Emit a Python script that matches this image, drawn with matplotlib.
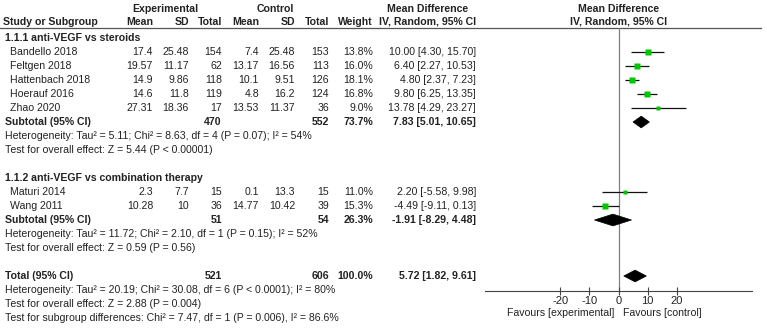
import matplotlib
matplotlib.use('Agg')
import matplotlib.pyplot as plt
from matplotlib.patches import Polygon

plt.rcParams['font.family'] = ['Liberation Sans', 'DejaVu Sans']
plt.rcParams['axes.unicode_minus'] = False

# ---- data ----
group_names = ["1.1.1 anti-VEGF vs steroids", "1.1.2 anti-VEGF vs combination therapy"]
study = ["Bandello 2018", "Feltgen 2018", "Hattenbach 2018", "Hoerauf 2016", "Zhao 2020",
         "Maturi 2014", "Wang 2011"]
group_of = [0, 0, 0, 0, 0, 1, 1]
exp_mean = [17.4, 19.57, 14.9, 14.6, 27.31, 2.3, 10.28]
exp_sd = [25.48, 11.17, 9.86, 11.8, 18.36, 7.7, 10]
exp_n = [154, 62, 118, 119, 17, 15, 36]
ctl_mean = [7.4, 13.17, 10.1, 4.8, 13.53, 0.1, 14.77]
ctl_sd = [25.48, 16.56, 9.51, 16.2, 11.37, 13.3, 10.42]
ctl_n = [153, 113, 126, 124, 36, 15, 39]
weight = [13.8, 16.0, 18.1, 16.8, 9.0, 11.0, 15.3]
md = [10.00, 6.40, 4.80, 9.80, 13.78, 2.20, -4.49]
ci_lo = [4.30, 2.27, 2.37, 6.25, 4.29, -5.58, -9.11]
ci_hi = [15.70, 10.53, 7.23, 13.35, 23.27, 9.98, 0.13]

sub_exp_n = [470, 51]
sub_ctl_n = [552, 54]
sub_weight = [73.7, 26.3]
sub_md = [7.83, -1.91]
sub_lo = [5.01, -8.29]
sub_hi = [10.65, 4.48]
sub_het = ["Heterogeneity: Tau² = 5.11; Chi² = 8.63, df = 4 (P = 0.07); I² = 54%",
           "Heterogeneity: Tau² = 11.72; Chi² = 2.10, df = 1 (P = 0.15); I² = 52%"]
sub_z = ["Test for overall effect: Z = 5.44 (P < 0.00001)",
         "Test for overall effect: Z = 0.59 (P = 0.56)"]

tot_exp_n, tot_ctl_n, tot_weight = 521, 606, 100.0
tot_md, tot_lo, tot_hi = 5.72, 1.82, 9.61
tot_lines = ["Heterogeneity: Tau² = 20.19; Chi² = 30.08, df = 6 (P < 0.0001); I² = 80%",
             "Test for overall effect: Z = 2.88 (P = 0.004)",
             "Test for subgroup differences: Chi² = 7.47, df = 1 (P = 0.006), I² = 86.6%"]
xticks = [-20, -10, 0, 10, 20]

# ---- layout ----
W, H = 767, 332
ROW0, DY = 52, 14
FS = 7.6
TXT = '#222222'
GREEN = '#00c800'


def row(px):
    return (px - ROW0) / DY


fig = plt.figure(figsize=(W / 100, H / 100), dpi=100)
ax = fig.add_axes([0, 0, 1, 1])
ax.set_xlim(0, W)
ax.set_ylim(row(H), row(0))
ax.axis('off')

# forest axes: x in mean difference units, y in rows
fx0, fx1, fy_top, fy_bot = 485, 752, 28, 291
axf = fig.add_axes([fx0 / W, (H - fy_bot) / H, (fx1 - fx0) / W, (fy_bot - fy_top) / H])
axf.set_xlim(-46, 46)
axf.set_ylim(row(fy_bot), row(fy_top))
axf.patch.set_alpha(0)
for s in ['top', 'left', 'right']:
    axf.spines[s].set_visible(False)
axf.spines['bottom'].set_color('#444444')
axf.spines['bottom'].set_linewidth(0.8)
axf.set_yticks([])
axf.set_xticks(xticks)
axf.set_xticklabels([str(t) for t in xticks])
axf.tick_params(axis='x', direction='inout', length=6, width=0.8, color='#444444',
                labelsize=8, labelcolor=TXT, pad=0.5)
axf.axvline(0, color='#808080', lw=0.9, zorder=1)

# column right edges
c_em, c_esd, c_en, c_cm, c_csd, c_cn, c_w, c_ci = 153, 189, 222, 259, 295, 329, 373, 476


def t(x, r, s, ha='right', bold=False):
    ax.text(x, r, s, ha=ha, va='center', fontsize=FS, color=TXT,
            fontweight='bold' if bold else 'normal')


# headers
t(165, row(9), "Experimental", ha='center', bold=True)
t(275, row(9), "Control", ha='center', bold=True)
t(428, row(9), "Mean Difference", ha='center', bold=True)
t(619, row(9), "Mean Difference", ha='center', bold=True)
t(3, row(22), "Study or Subgroup", ha='left', bold=True)
for x, s in [(c_em, "Mean"), (c_esd, "SD"), (c_en, "Total"), (c_cm, "Mean"),
             (c_csd, "SD"), (c_cn, "Total"), (c_w, "Weight"), (c_ci, "IV, Random, 95% CI")]:
    t(x, row(22), s, bold=True)
t(619, row(22), "IV, Random, 95% CI", ha='center', bold=True)
ax.plot([0, 761], [row(28), row(28)], color='#555555', lw=0.9)


def diamond(r, m, lo, hi):
    h = 0.42
    axf.add_patch(Polygon([(lo, r), (m, r - h), (hi, r), (m, r + h)], closed=True,
                          facecolor='black', edgecolor='black', lw=0.5, zorder=3))


r = -1
for g, name in enumerate(group_names):
    t(5, r, name, ha='left', bold=True)
    r += 1
    for i in range(len(study)):
        if group_of[i] != g:
            continue
        t(10, r, study[i], ha='left')
        t(c_em, r, f"{exp_mean[i]:g}")
        t(c_esd, r, f"{exp_sd[i]:g}")
        t(c_en, r, str(exp_n[i]))
        t(c_cm, r, f"{ctl_mean[i]:g}")
        t(c_csd, r, f"{ctl_sd[i]:g}")
        t(c_cn, r, str(ctl_n[i]))
        t(c_w, r, f"{weight[i]:.1f}%")
        t(c_ci, r, f"{md[i]:.2f} [{ci_lo[i]:.2f}, {ci_hi[i]:.2f}]")
        axf.hlines(r, ci_lo[i], ci_hi[i], color='#111111', lw=0.9, zorder=2)
        axf.plot(md[i], r, 's', color=GREEN, ms=0.22 * weight[i] + 0.8, mec='none', zorder=3)
        r += 1
    t(5, r, "Subtotal (95% CI)", ha='left', bold=True)
    t(c_en, r, str(sub_exp_n[g]), bold=True)
    t(c_cn, r, str(sub_ctl_n[g]), bold=True)
    t(c_w, r, f"{sub_weight[g]:.1f}%", bold=True)
    t(c_ci, r, f"{sub_md[g]:.2f} [{sub_lo[g]:.2f}, {sub_hi[g]:.2f}]", bold=True)
    diamond(r, sub_md[g], sub_lo[g], sub_hi[g])
    r += 1
    t(5, r, sub_het[g], ha='left')
    r += 1
    t(5, r, sub_z[g], ha='left')
    r += 2

t(5, r, "Total (95% CI)", ha='left', bold=True)
t(c_en, r, str(tot_exp_n), bold=True)
t(c_cn, r, str(tot_ctl_n), bold=True)
t(c_w, r, f"{tot_weight:.1f}%", bold=True)
t(c_ci, r, f"{tot_md:.2f} [{tot_lo:.2f}, {tot_hi:.2f}]", bold=True)
diamond(r, tot_md, tot_lo, tot_hi)
for line in tot_lines:
    r += 1
    t(5, r, line, ha='left')

t(614, row(313), "Favours [experimental]", ha='right')
t(623, row(313), "Favours [control]", ha='left')

fig.savefig('out.png', dpi=100)
